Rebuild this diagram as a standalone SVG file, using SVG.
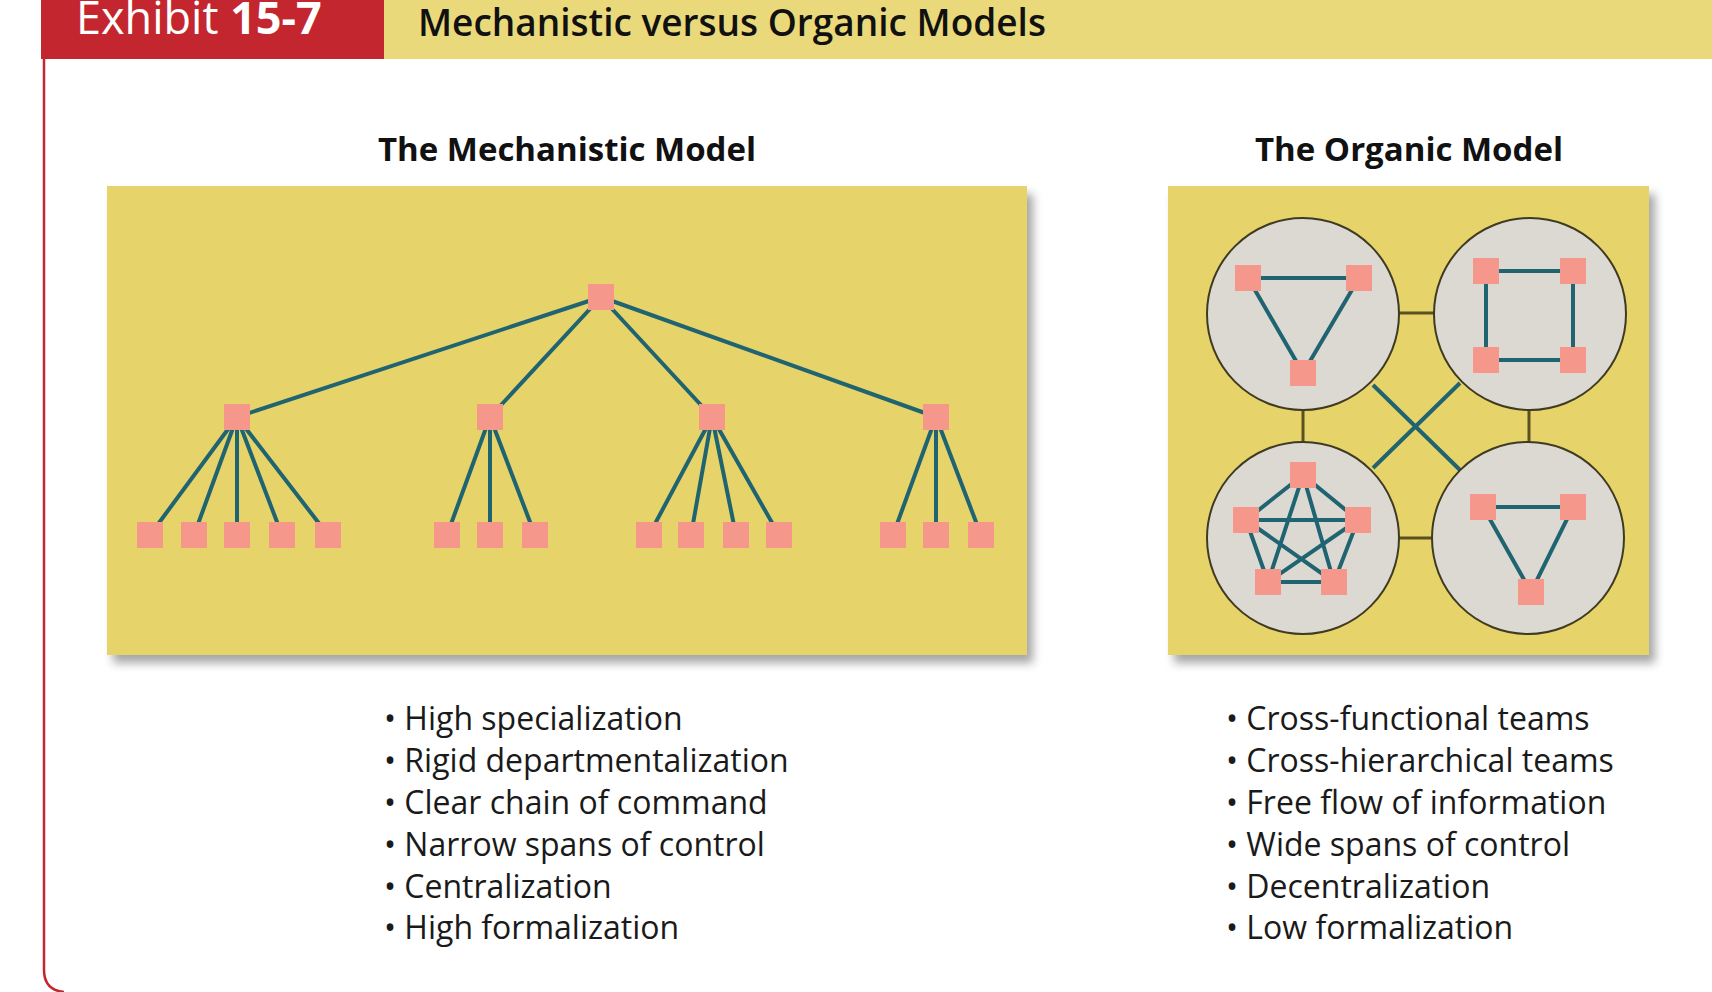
<svg xmlns="http://www.w3.org/2000/svg" width="1712" height="992" viewBox="0 0 1712 992">
<style>
.n{fill:#f5978b}
.e{stroke:#1f6470;stroke-width:4;fill:none}
.o{stroke:#5a5020;stroke-width:3}
.c{fill:#dcd9d3;stroke:#3f3a22;stroke-width:2}
.b{font-family:"Open Sans","Liberation Sans",sans-serif;font-size:32px;fill:#1a1a1a}
.h{font-family:"Open Sans","Liberation Sans",sans-serif;font-size:33px;font-weight:bold;fill:#111}
</style>
<defs><filter id="sh" x="-5%" y="-5%" width="115%" height="115%"><feDropShadow dx="6" dy="8" stdDeviation="5" flood-color="#000" flood-opacity="0.35"/></filter></defs>
<rect width="1712" height="992" fill="#fff"/>
<rect x="384" y="0" width="1328" height="59" fill="#e9d97a"/>
<rect x="41" y="0" width="343" height="59" fill="#c3262e"/>
<path d="M44 59 V970 Q44 990 64 992" fill="none" stroke="#c3262e" stroke-width="2.5"/>
<text x="76" y="34" font-family="Open Sans,Liberation Sans,sans-serif" font-size="45" fill="#fff">Exhibit <tspan font-weight="bold">15-7</tspan></text>
<text x="418" y="36" font-family="Open Sans,Liberation Sans,sans-serif" font-size="37" font-weight="600" fill="#111">Mechanistic versus Organic Models</text>
<text class="h" x="567" y="161" text-anchor="middle">The Mechanistic Model</text>
<text class="h" x="1409" y="161" text-anchor="middle">The Organic Model</text>
<rect x="107" y="186" width="920" height="469" fill="#e6d36a" filter="url(#sh)"/>
<rect x="1168" y="186" width="481" height="469" fill="#e6d36a" filter="url(#sh)"/>
<g id="connectors">
<path class="e" d="M601 297L237 417M601 297L490 417M601 297L712 417M601 297L936 417
M237 417L150 535M237 417L194 535M237 417L237 535M237 417L282 535M237 417L328 535
M490 417L447 535M490 417L490 535M490 417L535 535
M712 417L649 535M712 417L691 535M712 417L736 535M712 417L779 535
M936 417L893 535M936 417L936 535M936 417L981 535"/>
<path class="o" d="M1399 313H1434M1303 410V442M1529 410V442M1399 538H1432"/>
<path class="e" d="M1373 385L1460 470M1460 383L1373 468"/>
</g>
<g id="team-tl"><circle class="c" cx="1303" cy="314" r="96"/>
<path class="e" d="M1248 278H1359L1303 373Z"/>
<rect class="n" x="1235" y="265" width="26" height="26"/><rect class="n" x="1346" y="265" width="26" height="26"/><rect class="n" x="1290" y="360" width="26" height="26"/></g>
<g id="team-tr"><circle class="c" cx="1530" cy="314" r="96"/>
<path class="e" d="M1486 271H1573V360H1486Z"/>
<rect class="n" x="1473" y="258" width="26" height="26"/><rect class="n" x="1560" y="258" width="26" height="26"/><rect class="n" x="1473" y="347" width="26" height="26"/><rect class="n" x="1560" y="347" width="26" height="26"/></g>
<g id="team-bl"><circle class="c" cx="1303" cy="538" r="96"/>
<path class="e" d="M1303 475L1246 520L1268 582L1334 582L1358 520Z M1303 475L1268 582M1303 475L1334 582M1246 520L1358 520M1246 520L1334 582M1358 520L1268 582"/>
<rect class="n" x="1290" y="462" width="26" height="26"/><rect class="n" x="1233" y="507" width="26" height="26"/><rect class="n" x="1345" y="507" width="26" height="26"/><rect class="n" x="1255" y="569" width="26" height="26"/><rect class="n" x="1321" y="569" width="26" height="26"/></g>
<g id="team-br"><circle class="c" cx="1528" cy="538" r="96"/>
<path class="e" d="M1483 507H1573L1531 592Z"/>
<rect class="n" x="1470" y="494" width="26" height="26"/><rect class="n" x="1560" y="494" width="26" height="26"/><rect class="n" x="1518" y="579" width="26" height="26"/></g>
<g id="tree">
<rect class="n" x="588" y="284" width="26" height="26"/>
<rect class="n" x="224" y="404" width="26" height="26"/><rect class="n" x="477" y="404" width="26" height="26"/><rect class="n" x="699" y="404" width="26" height="26"/><rect class="n" x="923" y="404" width="26" height="26"/>
<rect class="n" x="137" y="522" width="26" height="26"/><rect class="n" x="181" y="522" width="26" height="26"/><rect class="n" x="224" y="522" width="26" height="26"/><rect class="n" x="269" y="522" width="26" height="26"/><rect class="n" x="315" y="522" width="26" height="26"/>
<rect class="n" x="434" y="522" width="26" height="26"/><rect class="n" x="477" y="522" width="26" height="26"/><rect class="n" x="522" y="522" width="26" height="26"/>
<rect class="n" x="636" y="522" width="26" height="26"/><rect class="n" x="678" y="522" width="26" height="26"/><rect class="n" x="723" y="522" width="26" height="26"/><rect class="n" x="766" y="522" width="26" height="26"/>
<rect class="n" x="880" y="522" width="26" height="26"/><rect class="n" x="923" y="522" width="26" height="26"/><rect class="n" x="968" y="522" width="26" height="26"/>
</g>
<g id="list-left" class="b">
<text x="384" y="730">• High specialization</text>
<text x="384" y="772">• Rigid departmentalization</text>
<text x="384" y="814">• Clear chain of command</text>
<text x="384" y="856">• Narrow spans of control</text>
<text x="384" y="898">• Centralization</text>
<text x="384" y="939">• High formalization</text>
</g>
<g id="list-right" class="b">
<text x="1226" y="730">• Cross-functional teams</text>
<text x="1226" y="772">• Cross-hierarchical teams</text>
<text x="1226" y="814">• Free flow of information</text>
<text x="1226" y="856">• Wide spans of control</text>
<text x="1226" y="898">• Decentralization</text>
<text x="1226" y="939">• Low formalization</text>
</g>
</svg>
